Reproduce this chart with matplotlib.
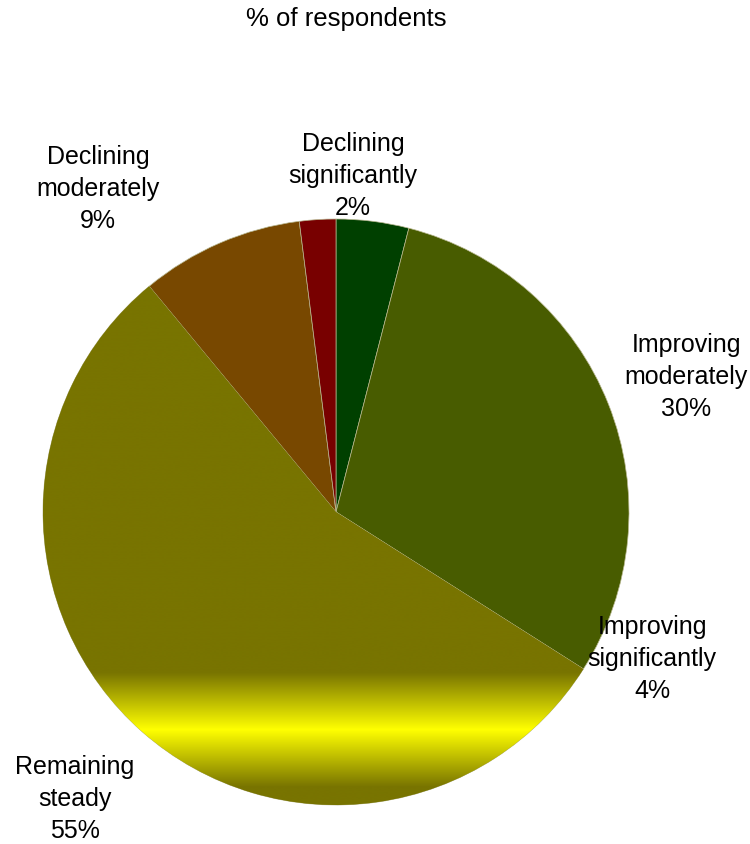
import numpy as np
import matplotlib
matplotlib.use("Agg")
import matplotlib.pyplot as plt

plt.rcParams['font.family'] = ['Liberation Sans', 'DejaVu Sans']

# Survey shares, clockwise from 12 o'clock
categories = ["Improving\nsignificantly", "Improving\nmoderately", "Remaining\nsteady",
              "Declining\nmoderately", "Declining\nsignificantly"]
values = [4, 30, 55, 9, 2]
colors = ["#004000", "#485C00", "#787400", "#784800", "#780000"]

# label anchor points in figure pixels (x, y from top)
label_pos = [(652, 659), (686, 377), (75, 799), (98, 189), (353, 176)]

W, H = 750, 844
fig = plt.figure(figsize=(W / 100, H / 100), dpi=100)
cx, cy, r = 336, 512, 293
ax = fig.add_axes([(cx - r) / W, (H - cy - r) / H, 2 * r / W, 2 * r / H])

wedges, _ = ax.pie(values, colors=colors, startangle=90, counterclock=False,
                   radius=1.0, wedgeprops=dict(edgecolor="#b8b890", linewidth=0.5))
ax.set_xlim(-1, 1)
ax.set_ylim(-1, 1)
ax.set_aspect("equal")
ax.axis("off")

# horizontal yellow sheen across the "Remaining steady" slice
ys = np.linspace(1, -1, 800)
olive = np.array([0x78, 0x74, 0x00]) / 255
yellow = np.array([1.0, 1.0, 0.0])
t = np.clip(1 - np.abs(ys + 0.744) / 0.195, 0, 1)
grad = olive[None, :] * (1 - t[:, None]) + yellow[None, :] * t[:, None]
img = ax.imshow(grad[:, None, :], extent=[-1, 1, -1, 1], aspect="auto",
                interpolation="bilinear", zorder=wedges[2].get_zorder() + 0.1)
img.set_clip_path(wedges[2])

for cat, v, (lx, ly) in zip(categories, values, label_pos):
    fig.text(lx / W, 1 - ly / H, f"{cat}\n{v}%", ha="center", va="center",
             fontsize=18, linespacing=1.42, color="black")

fig.text(346 / W, 1 - 19 / H, "% of respondents", ha="center", va="center",
         fontsize=18.5, color="black")

fig.savefig("out.png", dpi=100, facecolor="white")
